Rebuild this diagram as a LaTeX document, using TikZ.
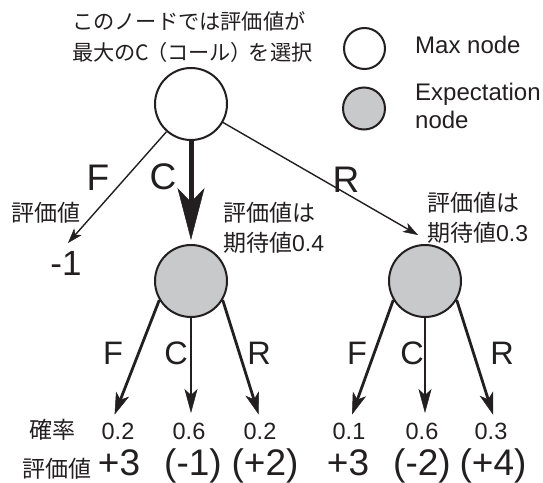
\documentclass[tikz,border=0pt]{standalone}
\usepackage{fontspec}
\setmainfont{Liberation Sans}
\newfontfamily\jp{Noto Sans CJK JP}
\usetikzlibrary{arrows.meta}

\definecolor{ink}{RGB}{35,31,32}
\definecolor{expgray}{RGB}{200,201,203}

\newcommand{\fs}[1]{\fontsize{#1}{#1}\selectfont}

\tikzset{
  maxnode/.style={circle, draw=ink, line width=2pt, fill=white, minimum size=72pt, inner sep=0pt},
  expnode/.style={circle, draw=ink, line width=2pt, fill=expgray, minimum size=72pt, inner sep=0pt},
  legmax/.style={maxnode, minimum size=41pt},
  legexp/.style={expnode, minimum size=42pt},
  lbl/.style={inner sep=0pt, text=ink},
  move/.style={lbl, font=\fs{37}},
  chance/.style={lbl, font=\fs{32.5}},
  prob/.style={lbl, font=\fs{23.5}},
  val/.style={lbl, font=\fs{37}},
  jtxt/.style={lbl, font=\jp\fs{23}},
  thinarrow/.style={draw=ink, line width=1.4pt,
    -{Stealth[length=15pt, width=10pt, inset=4pt, line width=0.5pt]}},
  bestarrow/.style={draw=ink, line width=5pt,
    -{Stealth[length=52pt, width=27pt, inset=14pt, line width=0.5pt]}},
  sidearrow/.style={draw=ink, line width=2.8pt,
    -{Stealth[length=22pt, width=14pt, inset=6pt, line width=0.5pt]}},
  midarrow/.style={draw=ink, line width=1.8pt,
    -{Stealth[length=24pt, width=13pt, inset=6pt, line width=0.5pt]}},
}

\begin{document}
\begin{tikzpicture}[x=1pt, y=-1pt]
\useasboundingbox (0,0) rectangle (543,482);

% caption above the root
\node[lbl, anchor=west, font=\jp\fs{21.2}] (cap1) at (72,21.7) {このノードでは評価値が};
\node[lbl, anchor=west, font=\jp\fs{21.2}] (cap2) at (72,52.5)
  {最大のC\kern-0.15em（コール）\kern-0.15em を選択};

% legend
\node[legmax] (lgmax) at (364.5,48.5) {};
\node[legexp] (lgexp) at (364,108.5) {};
\node[lbl, anchor=base west, font=\fs{24}] (lgmaxt) at (415,53.3) {Max node};
\node[lbl, anchor=base west, font=\fs{24}] (lgexpt1) at (415,100.7) {Expectation};
\node[lbl, anchor=base west, font=\fs{24}] (lgexpt2) at (415,128.5) {node};

% tree nodes
\node[maxnode] (root) at (191,104) {};
\node[expnode] (L) at (191,281) {};
\node[expnode] (R) at (425,281) {};

% arrow end points
\coordinate (ftip) at (68,243);
\coordinate (ctip) at (191,240);
\coordinate (rtip) at (418,235);
\coordinate (lf) at (114.6,414.6);
\coordinate (lc) at (191,413);
\coordinate (lr) at (258.7,414.6);
\coordinate (rf) at (352,414.6);
\coordinate (rc) at (425,413);
\coordinate (rr) at (493,414.6);

% root moves
\draw[thinarrow] (root) -- (ftip);
\draw[bestarrow] (root.south) -- (ctip);
\draw[thinarrow] (root) -- (rtip);

% chance moves
\draw[sidearrow] (L.211) -- (lf);
\draw[midarrow]  (L.south) -- (lc);
\draw[sidearrow] (L.329) -- (lr);
\draw[sidearrow] (R.211) -- (rf);
\draw[midarrow]  (R.south) -- (rc);
\draw[sidearrow] (R.329) -- (rr);

% move letters at the root
\node[move, anchor=base] (tF) at (98,190) {F};
\node[move, anchor=base] (tC) at (163,189.5) {C};
\node[move, anchor=base] (tR) at (346,192) {R};

% value of folding
\node[jtxt] (evF) at (46,212.5) {評価値};
\node[lbl, anchor=base, font=\fs{35}] (vF) at (66,275) {-1};

% expected values
\node[jtxt, anchor=west] (evL1) at (223,212.5) {評価値は};
\node[jtxt, anchor=west] (evL2) at (223,243) {期待値{\rmfamily 0.4}};
\node[jtxt, anchor=west] (evR1) at (427,202.5) {評価値は};
\node[jtxt, anchor=west] (evR2) at (427,233) {期待値{\rmfamily 0.3}};

% move letters at the chance nodes
\node[chance, anchor=base] (bLF) at (113,364) {F};
\node[chance, anchor=base] (bLC) at (176,364) {C};
\node[chance, anchor=base] (bLR) at (259,364) {R};
\node[chance, anchor=base] (bRF) at (357,364) {F};
\node[chance, anchor=base] (bRC) at (412,364) {C};
\node[chance, anchor=base] (bRR) at (502,364) {R};

% probabilities
\node[jtxt] (pr) at (52,430) {確率};
\node[prob, anchor=base] (p1) at (118,439) {0.2};
\node[prob, anchor=base] (p2) at (189,439) {0.6};
\node[prob, anchor=base] (p3) at (260,439) {0.2};
\node[prob, anchor=base] (p4) at (349,439) {0.1};
\node[prob, anchor=base] (p5) at (422,439) {0.6};
\node[prob, anchor=base] (p6) at (491,439) {0.3};

% leaf values
\node[jtxt] (ev) at (57,469) {評価値};
\node[val, anchor=base] (v1) at (119,475) {+3};
\node[val, anchor=base] (v2) at (193,475) {(-1)};
\node[val, anchor=base] (v3) at (265,475) {(+2)};
\node[val, anchor=base] (v4) at (348,475) {+3};
\node[val, anchor=base] (v5) at (422,475) {(-2)};
\node[val, anchor=base] (v6) at (493,475) {(+4)};
\end{tikzpicture}
\end{document}
